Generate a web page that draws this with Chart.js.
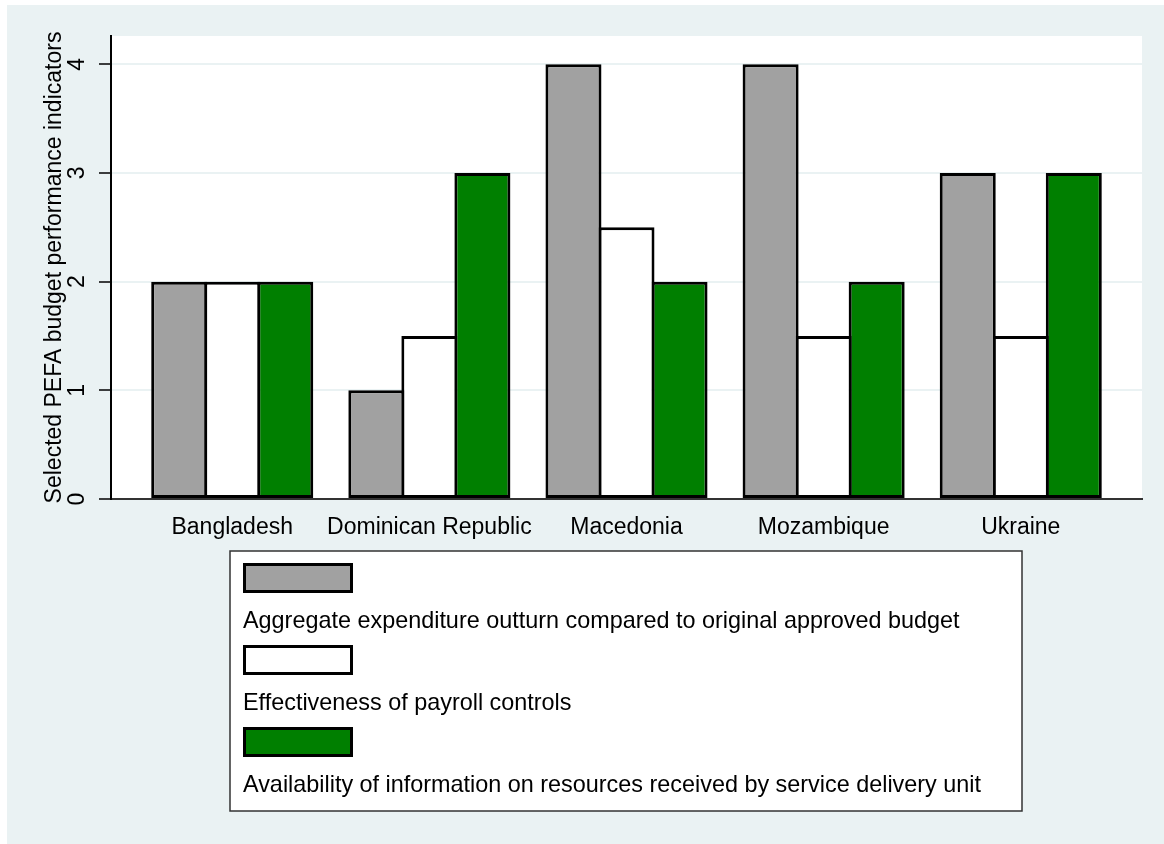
<!DOCTYPE html>
<html>
<head>
<meta charset="utf-8">
<script src="https://cdn.jsdelivr.net/npm/chart.js@4"></script>
<style>
  html, body { margin: 0; padding: 0; background: #ffffff; }
  #wrap { position: relative; width: 1164px; height: 844px; }
</style>
</head>
<body>
<div id="wrap"><canvas id="c"></canvas></div>
<script>
const categories = ["Bangladesh", "Dominican Republic", "Macedonia", "Mozambique", "Ukraine"];
const seriesLabels = [
  "Aggregate expenditure outturn compared to original approved budget",
  "Effectiveness of payroll controls",
  "Availability of information on resources received by service delivery unit"
];
const aggregateOutturn = [2, 1, 4, 4, 3];
const payrollControls = [2, 1.5, 2.5, 1.5, 1.5];
const serviceDeliveryInfo = [2, 3, 2, 2, 3];
const yTicks = [0, 1, 2, 3, 4];
const yTitle = "Selected PEFA budget performance indicators";

const FONT = "'Liberation Sans', Arial, Helvetica, sans-serif";
const BG = "#eaf2f3";
const colors = ["#a1a1a1", "#ffffff", "#007f00"];
const seriesValues = [aggregateOutturn, payrollControls, serviceDeliveryInfo];

const datasets = seriesValues.map((vals, k) => ({
  label: seriesLabels[k],
  data: vals.map((v, i) => ({ x: i, y: v })),
  backgroundColor: colors[k],
  borderColor: "#000000",
  borderWidth: 3,
  borderSkipped: false,
  categoryPercentage: 0.807,
  barPercentage: 1.0566
}));

const backgroundPlugin = {
  id: "stataBg",
  beforeDraw(chart) {
    const ctx = chart.ctx;
    const a = chart.chartArea;
    ctx.save();
    ctx.fillStyle = BG;
    ctx.fillRect(7, 5, chart.width - 7, chart.height - 5);
    ctx.fillStyle = "#ffffff";
    ctx.fillRect(a.left, a.top, a.right - a.left, a.bottom - a.top);
    ctx.restore();
  }
};

const legendPlugin = {
  id: "stackedLegend",
  afterDraw(chart) {
    const ctx = chart.ctx;
    ctx.save();
    const box = { x: 230, y: 551, w: 792, h: 260 };
    ctx.fillStyle = "#ffffff";
    ctx.fillRect(box.x, box.y, box.w, box.h);
    ctx.strokeStyle = "#333333";
    ctx.lineWidth = 1.5;
    ctx.strokeRect(box.x, box.y, box.w, box.h);
    chart.data.datasets.forEach((ds, k) => {
      const top = 563 + k * 82;
      ctx.fillStyle = ds.backgroundColor;
      ctx.fillRect(243, top, 110, 30);
      ctx.strokeStyle = "#000000";
      ctx.lineWidth = 3;
      ctx.strokeRect(244.5, top + 1.5, 107, 27);
      ctx.fillStyle = "#000000";
      ctx.font = "23.4px " + FONT;
      ctx.textAlign = "left";
      ctx.textBaseline = "middle";
      ctx.fillText(ds.label, 243, top + 59);
    });
    ctx.restore();
  }
};

new Chart(document.getElementById("c"), {
  type: "bar",
  data: { datasets },
  plugins: [backgroundPlugin, legendPlugin],
  options: {
    responsive: true,
    maintainAspectRatio: false,
    animation: false,
    devicePixelRatio: 1,
    layout: { padding: { left: 0, top: 36, right: 22, bottom: 295 } },
    plugins: { legend: { display: false }, tooltip: { enabled: false } },
    scales: {
      x: {
        type: "linear",
        min: -0.615,
        max: 4.615,
        offset: false,
        afterBuildTicks(scale) { scale.ticks = categories.map((_, i) => ({ value: i })); },
        afterFit(scale) { scale.height = 50; },
        grid: { display: false, drawTicks: false },
        border: { display: true, color: "#333333", width: 2 },
        ticks: {
          autoSkip: false, maxRotation: 0, minRotation: 0, padding: 15,
          color: "#000000", font: { family: FONT, size: 23 },
          callback: (v) => categories[v]
        }
      },
      y: {
        min: 0,
        max: 4.26,
        afterBuildTicks(scale) { scale.ticks = yTicks.map(v => ({ value: v })); },
        afterFit(scale) { scale.width = 111; },
        grid: {
          color: (c) => (c.tick && c.tick.value === 0) ? "rgba(0,0,0,0)" : BG,
          lineWidth: 2,
          tickColor: "#000000",
          tickLength: 12,
          tickWidth: 1.5
        },
        border: { display: true, color: "#000000", width: 2 },
        ticks: {
          minRotation: 90, maxRotation: 90, crossAlign: "center", padding: 15,
          color: "#000000", font: { family: FONT, size: 23 }
        },
        title: {
          display: true, text: yTitle, color: "#000000",
          font: { family: FONT, size: 23 },
          padding: { top: 41, bottom: 0 }
        }
      }
    }
  }
});
</script>
</body>
</html>
